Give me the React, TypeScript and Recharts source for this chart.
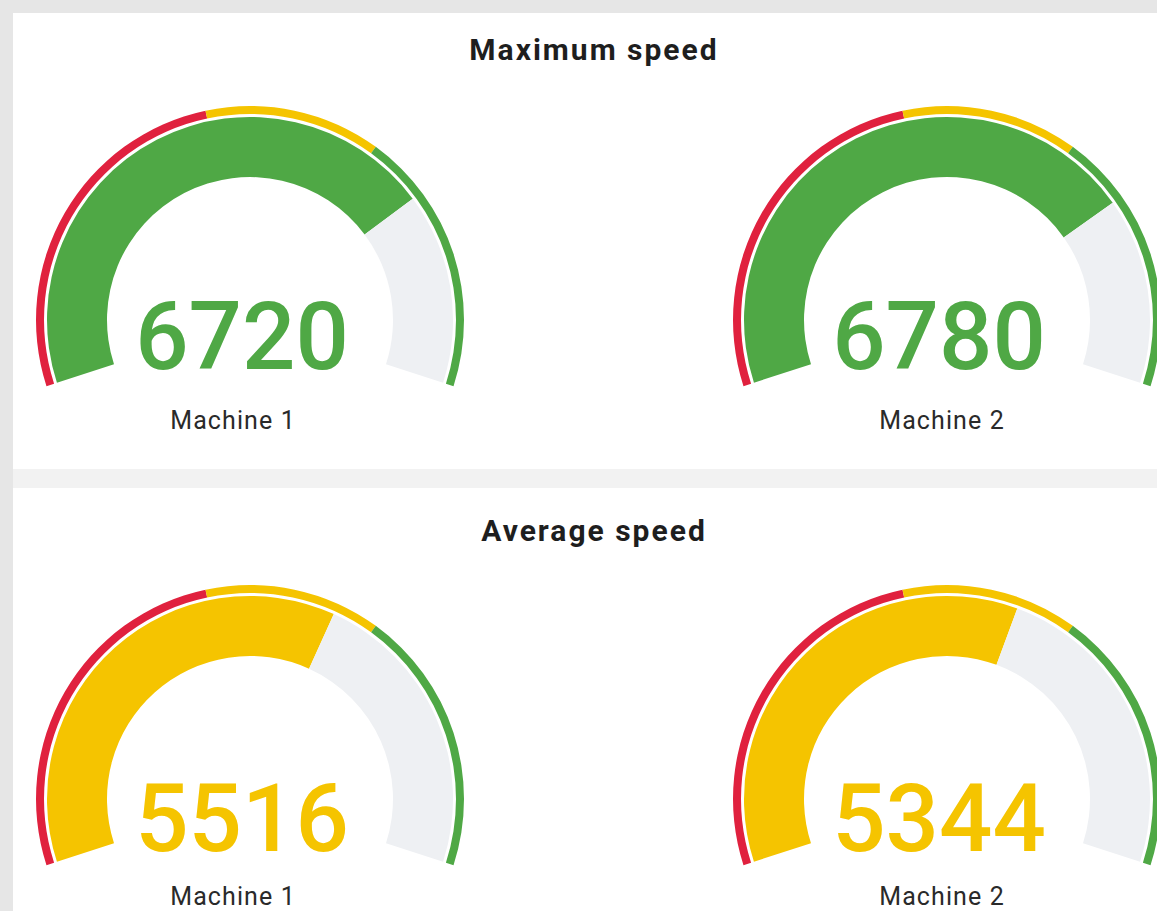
import React from 'react'
import { PieChart, Pie, Cell } from 'recharts'

// gauge data
const machines = ['Machine 1', 'Machine 2']
const maxSpeed = [6720, 6780]
const avgSpeed = [5516, 5344]
const gaugeMax = 9000
const bandLimits = [4000, 6000, 9000]
const bandColors = ['#e0213e', '#f5c400', '#4fa845']
const sectionTitles = ['Maximum speed', 'Average speed']

const GREEN = '#4fa845'
const YELLOW = '#f5c400'
const TRACK = '#eef0f3'

const START = 198
const END = -18

const bandData = bandLimits.map((lim, i) => ({ value: lim - (i === 0 ? 0 : bandLimits[i - 1]) }))

interface GaugeProps {
  cx: number
  cy: number
  value: number
  color: string
}

function Gauge({ cx, cy, value, color }: GaugeProps) {
  const size = 470
  const valueData = [{ value }, { value: gaugeMax - value }]
  return (
    <div style={{ position: 'absolute', left: cx - size / 2, top: cy - size / 2 }}>
      <PieChart width={size} height={size}>
        <Pie
          data={bandData}
          dataKey="value"
          cx={size / 2}
          cy={size / 2}
          startAngle={START}
          endAngle={END}
          innerRadius={206}
          outerRadius={214}
          stroke="none"
          isAnimationActive={false}
        >
          {bandData.map((_, i) => (
            <Cell key={i} fill={bandColors[i]} />
          ))}
        </Pie>
        <Pie
          data={valueData}
          dataKey="value"
          cx={size / 2}
          cy={size / 2}
          startAngle={START}
          endAngle={END}
          innerRadius={143}
          outerRadius={203}
          stroke="none"
          isAnimationActive={false}
        >
          <Cell fill={color} />
          <Cell fill={TRACK} />
        </Pie>
      </PieChart>
    </div>
  )
}

const gaugeX = [245, 942]
const labelX = [233, 942]
const rowCy = [315, 794]
const titleY = [60, 541]
const numberDy = [54, 57]
const labelDy = [114, 111]

export default function App() {
  const rows = [maxSpeed, avgSpeed]
  const rowColors = [GREEN, YELLOW]
  return (
    <div
      style={{
        position: 'absolute',
        left: 0,
        top: 0,
        width: 1157,
        height: 911,
        overflow: 'hidden',
        background: '#e6e6e6',
        fontFamily: 'Roboto, sans-serif',
      }}
    >
      <div style={{ position: 'absolute', left: 13, top: 13, width: 1160, height: 456, background: '#ffffff' }} />
      <div style={{ position: 'absolute', left: 13, top: 469, width: 1160, height: 19, background: '#f2f2f2' }} />
      <div style={{ position: 'absolute', left: 13, top: 488, width: 1160, height: 430, background: '#ffffff' }} />
      {rows.map((vals, r) =>
        vals.map((v, i) => (
          <Gauge key={`${r}-${i}`} cx={gaugeX[i]} cy={rowCy[r]} value={v} color={rowColors[r]} />
        ))
      )}
      <svg width={1157} height={911} style={{ position: 'absolute', left: 0, top: 0 }}>
        {sectionTitles.map((t, r) => (
          <text
            key={t}
            x={594}
            y={titleY[r]}
            textAnchor="middle"
            fontFamily="Roboto, sans-serif"
            fontWeight={700}
            fontSize={30}
            letterSpacing={2}
            fill="#1e1e1e"
          >
            {t}
          </text>
        ))}
        {rows.map((vals, r) =>
          vals.map((v, i) => (
            <g key={`${r}-${i}`}>
              <text
                x={gaugeX[i] - 3}
                y={rowCy[r] + numberDy[r]}
                textAnchor="middle"
                fontFamily="Roboto, sans-serif"
                fontWeight={500}
                fontSize={94}
                fill={rowColors[r]}
              >
                {v}
              </text>
              <text
                x={labelX[i]}
                y={rowCy[r] + labelDy[r]}
                textAnchor="middle"
                fontFamily="Roboto, sans-serif"
                fontSize={25}
                letterSpacing={1.1}
                fill="#2a2a2a"
              >
                {machines[i]}
              </text>
            </g>
          ))
        )}
      </svg>
    </div>
  )
}
